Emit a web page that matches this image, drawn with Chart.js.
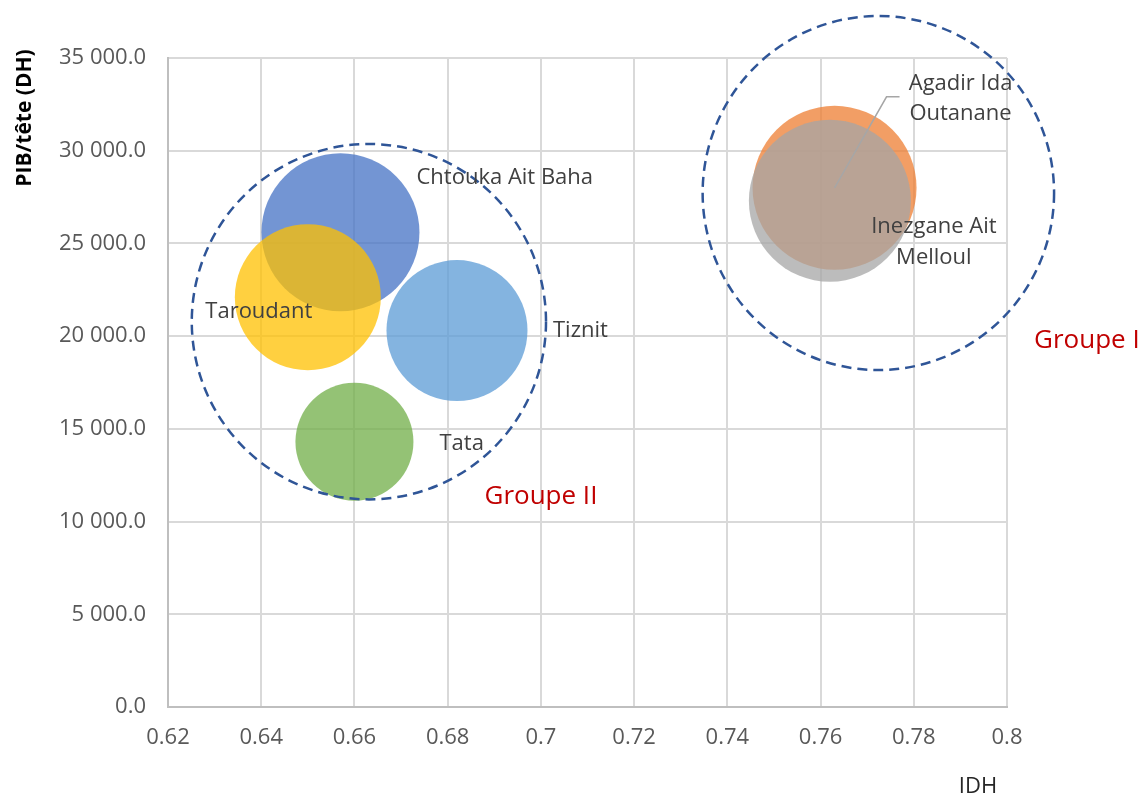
<!DOCTYPE html>
<html lang="fr">
<head>
  <meta charset="UTF-8">
  <title>IDH et PIB par tête</title>
  <style>
    body { margin: 0; background: #fff; }
    .wrap { width: 1147px; height: 796px; position: relative; }
  </style>
  <script src="https://cdn.jsdelivr.net/npm/chart.js"></script>
</head>
<body>
  <div class="wrap"><canvas id="chart"></canvas></div>
  <script>
    // provinces, IDH (x), PIB/tête (y) and bubble radius in px
    const provinces = ['Chtouka Ait Baha', 'Agadir Ida Outanane', 'Inezgane Ait Melloul', 'Taroudant', 'Tiznit', 'Tata'];
    const idh = [0.657, 0.763, 0.762, 0.650, 0.682, 0.660];
    const pib = [25600, 28000, 27300, 22100, 20300, 14300];
    const radii = [79, 82, 81, 73, 70.5, 59];
    const colors = ['#4472C4', '#ED7D31', '#A5A5A5', '#FFC000', '#5B9BD5', '#70AD47'];

    const xTicks = [0.62, 0.64, 0.66, 0.68, 0.7, 0.72, 0.74, 0.76, 0.78, 0.8];
    const yTicks = [0, 5000, 10000, 15000, 20000, 25000, 30000, 35000];

    // the two groups circled with a dashed outline
    const groupNames = ['Groupe I', 'Groupe II'];
    const groupX = [0.7724, 0.6631];
    const groupY = [27720, 20779];
    const groupRx = [0.0377, 0.0380];
    const groupRy = [9545, 9583];
    const groupLabelX = [0.8058, 0.6879];
    const groupLabelY = [19740, 11330];

    // label placement relative to each bubble centre (lines, dx, dy, align)
    const labelPos = [
      { lines: ['Chtouka Ait Baha'], dx: 76, dy: [-55], align: 'left' },
      { lines: ['Agadir Ida', 'Outanane'], dx: 126, dy: [-104, -74], align: 'center', leader: [[52, -91], [65, -91]] },
      { lines: ['Inezgane Ait', 'Melloul'], dx: 104, dy: [26, 57], align: 'center' },
      { lines: ['Taroudant'], dx: -49, dy: [15], align: 'center' },
      { lines: ['Tiznit'], dx: 96, dy: [0], align: 'left' },
      { lines: ['Tata'], dx: 85, dy: [2], align: 'left' }
    ];

    const FONT = '"Open Sans", sans-serif';

    function hexAlpha(hex, a) {
      const n = parseInt(hex.slice(1), 16);
      return `rgba(${n >> 16}, ${(n >> 8) & 255}, ${n & 255}, ${a})`;
    }

    function formatThousands(v) {
      const s = Math.round(v).toString().replace(/\B(?=(\d{3})+(?!\d))/g, ' ');
      return s + '.0';
    }

    // later series are painted over earlier ones
    const datasets = provinces.map((name, i) => ({
      label: name,
      data: [{ x: idh[i], y: pib[i], r: radii[i] }],
      backgroundColor: hexAlpha(colors[i], 0.75),
      borderWidth: 0,
      hoverBorderWidth: 0,
      hoverRadius: 0,
      order: provinces.length - i
    }));

    const overlay = {
      id: 'overlay',
      afterDatasetsDraw(chart) {
        const ctx = chart.ctx;
        const xs = chart.scales.x, ys = chart.scales.y;
        ctx.save();

        // dashed group outlines
        ctx.strokeStyle = '#2F5597';
        ctx.lineWidth = 2.5;
        ctx.setLineDash([10, 6]);
        groupNames.forEach((g, i) => {
          const cx = xs.getPixelForValue(groupX[i]);
          const cy = ys.getPixelForValue(groupY[i]);
          const rx = xs.getPixelForValue(groupX[i] + groupRx[i]) - cx;
          const ry = cy - ys.getPixelForValue(groupY[i] + groupRy[i]);
          ctx.beginPath();
          ctx.ellipse(cx, cy, rx, ry, 0, 0, Math.PI * 2);
          ctx.stroke();
        });
        ctx.setLineDash([]);

        // group names
        ctx.fillStyle = '#C00000';
        ctx.font = '26px ' + FONT;
        ctx.textAlign = 'left';
        ctx.textBaseline = 'middle';
        groupNames.forEach((g, i) => {
          ctx.fillText(g, xs.getPixelForValue(groupLabelX[i]), ys.getPixelForValue(groupLabelY[i]));
        });

        // province labels
        ctx.font = '22px ' + FONT;
        chart.data.datasets.forEach((ds, i) => {
          const pt = chart.getDatasetMeta(i).data[0];
          const lp = labelPos[i];
          if (lp.leader) {
            ctx.strokeStyle = '#A6A6A6';
            ctx.lineWidth = 1.5;
            ctx.beginPath();
            ctx.moveTo(pt.x, pt.y);
            lp.leader.forEach(p => ctx.lineTo(pt.x + p[0], pt.y + p[1]));
            ctx.stroke();
          }
          ctx.fillStyle = '#404040';
          ctx.textAlign = lp.align;
          lp.lines.forEach((line, k) => ctx.fillText(line, pt.x + lp.dx, pt.y + lp.dy[k]));
        });

        // axis titles
        ctx.fillStyle = '#262626';
        ctx.textAlign = 'center';
        ctx.font = '22px ' + FONT;
        ctx.fillText('IDH', 978, 787);
        ctx.translate(25, 118);
        ctx.rotate(-Math.PI / 2);
        ctx.font = 'bold 21px ' + FONT;
        ctx.fillStyle = '#000';
        ctx.fillText('PIB/tête (DH)', 0, 0);
        ctx.restore();
      }
    };

    new Chart(document.getElementById('chart'), {
      type: 'bubble',
      data: { datasets },
      plugins: [overlay],
      options: {
        responsive: true,
        maintainAspectRatio: false,
        animation: false,
        events: [],
        layout: { autoPadding: false, padding: { top: 58, right: 140, left: 0, bottom: 0 } },
        plugins: { legend: { display: false }, tooltip: { enabled: false } },
        scales: {
          x: {
            type: 'linear',
            min: xTicks[0],
            max: xTicks[xTicks.length - 1],
            afterBuildTicks: s => { s.ticks = xTicks.map(v => ({ value: v })); },
            afterFit: s => { s.height = 89; s.paddingLeft = 0; s.paddingRight = 0; },
            grid: { color: '#D9D9D9', lineWidth: 2, drawTicks: false },
            border: { color: '#BFBFBF', width: 2 },
            ticks: {
              color: '#595959',
              font: { family: FONT, size: 22 },
              padding: 18,
              maxRotation: 0,
              callback: v => String(+v.toFixed(2))
            }
          },
          y: {
            type: 'linear',
            min: yTicks[0],
            max: yTicks[yTicks.length - 1],
            afterBuildTicks: s => { s.ticks = yTicks.map(v => ({ value: v })); },
            afterFit: s => { s.width = 168; s.paddingTop = 0; s.paddingBottom = 0; },
            grid: { color: '#D9D9D9', lineWidth: 2, drawTicks: false },
            border: { color: '#BFBFBF', width: 2 },
            ticks: {
              color: '#595959',
              font: { family: FONT, size: 22 },
              padding: 22,
              callback: v => formatThousands(v)
            }
          }
        }
      }
    });
  </script>
</body>
</html>
